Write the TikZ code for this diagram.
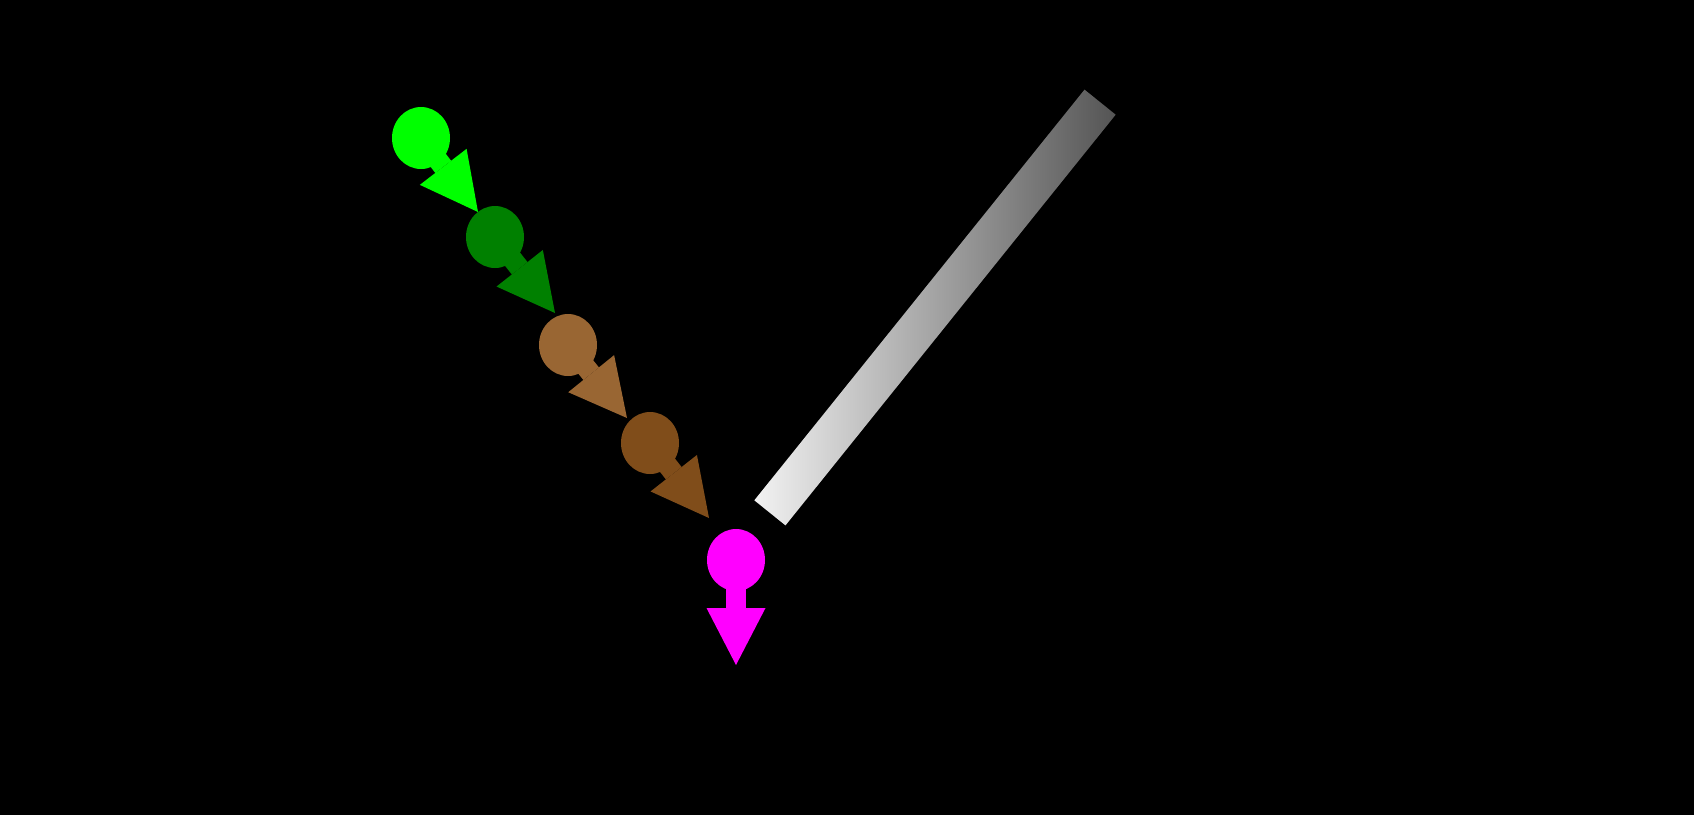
\documentclass[tikz,border=0pt]{standalone}
\usepackage{fontspec}
\setmainfont{Liberation Serif}
\usetikzlibrary{shapes.geometric,arrows.meta}
\definecolor{olgreen}{RGB}{0,255,0}
\definecolor{pxgreen}{RGB}{0,128,0}
\definecolor{amfbrown}{RGB}{153,102,51}
\definecolor{biobrown}{RGB}{128,77,26}
\definecolor{kfmagenta}{RGB}{255,0,255}
\tikzset{
  label/.style={font=\fontsize{21.5}{26}\selectfont, text=black, inner sep=0pt},
  mineral/.style={label, anchor=base west},
  pinhead/.style={ellipse, fill=#1, inner sep=0pt, minimum width=29pt, minimum height=31pt},
  pinarrow/.style={draw=#1, line width=10pt, -{Triangle[width=29.5pt,length=28.5pt,line width=0pt]}}
}
\begin{document}
\begin{tikzpicture}[x=0.5pt,y=-0.5pt]
  %Background
  \fill[black] (0,0) rectangle (1694,815);
  %Title
  \node[label, anchor=base west, font=\fontsize{26}{30}\selectfont] (title) at (469,52) {Bowen-féle reakció sorozatok};

  %Side texts
  \node[label, rotate=-90] (temp) at (198,290) {Csökkenő T};
  \node[label, rotate=-90] (sio) at (95,420) {Növekvő SiO\textsubscript{2}-tartalom az};
  \node[label, rotate=-90] (melt) at (23,285) {olvadékban};

  %Discontinuous series
  \node[pinhead=olgreen] (ol) at (421,138) {};
  \node[pinhead=pxgreen] (px) at (495,237) {};
  \node[pinhead=amfbrown] (amf) at (568,345) {};
  \node[pinhead=biobrown] (bio) at (650,443) {};
  \node[pinhead=kfmagenta] (kf) at (736,560) {};
  \coordinate (ol-tip) at (478,212);
  \coordinate (px-tip) at (555,313);
  \coordinate (amf-tip) at (627,418);
  \coordinate (bio-tip) at (709,518);
  \coordinate (kf-tip) at (736,665);
  \draw[pinarrow=olgreen] (ol.center) -- (ol-tip);
  \draw[pinarrow=pxgreen] (px.center) -- (px-tip);
  \draw[pinarrow=amfbrown] (amf.center) -- (amf-tip);
  \draw[pinarrow=biobrown] (bio.center) -- (bio-tip);
  \draw[pinarrow=kfmagenta] (kf.center) -- (kf-tip);
  \node[label, rotate=-52] (discont) at (604,257) {Dis-kontinuális sor};

  %Continuous series
  \node[rotate=51.2, minimum width=263.5pt, minimum height=20pt, inner sep=0pt,
        left color=black!5, right color=black!67] (plbar) at (935,307.5) {};
  \node[label, rotate=48] (cont) at (894,281) {Kontinuális sor};
  \node[mineral] (capl) at (1097,188) {Ca-gazdag PL.};
  \node[mineral] (napl) at (827,534) {Na-gazdag PL.};

  %Minerals
  \node[mineral] (olivin) at (281,193) {olivin};
  \node[mineral] (pirox) at (339,304) {piroxén};
  \node[mineral] (amfib) at (421,413) {amfibol};
  \node[mineral] (biotit) at (222,580) {biotit};
  \node[mineral] (kalif) at (789,631) {káliföldpát};
  \node[mineral] (kvarc) at (789,805) {kvarc};

  %Rocks
  \node[mineral] (bazalt) at (1410,150) {bazalt};
  \node[mineral] (andezit) at (1409,372) {andezit};
  \node[mineral] (riolit) at (1410,703) {riolit};
\end{tikzpicture}
\end{document}
